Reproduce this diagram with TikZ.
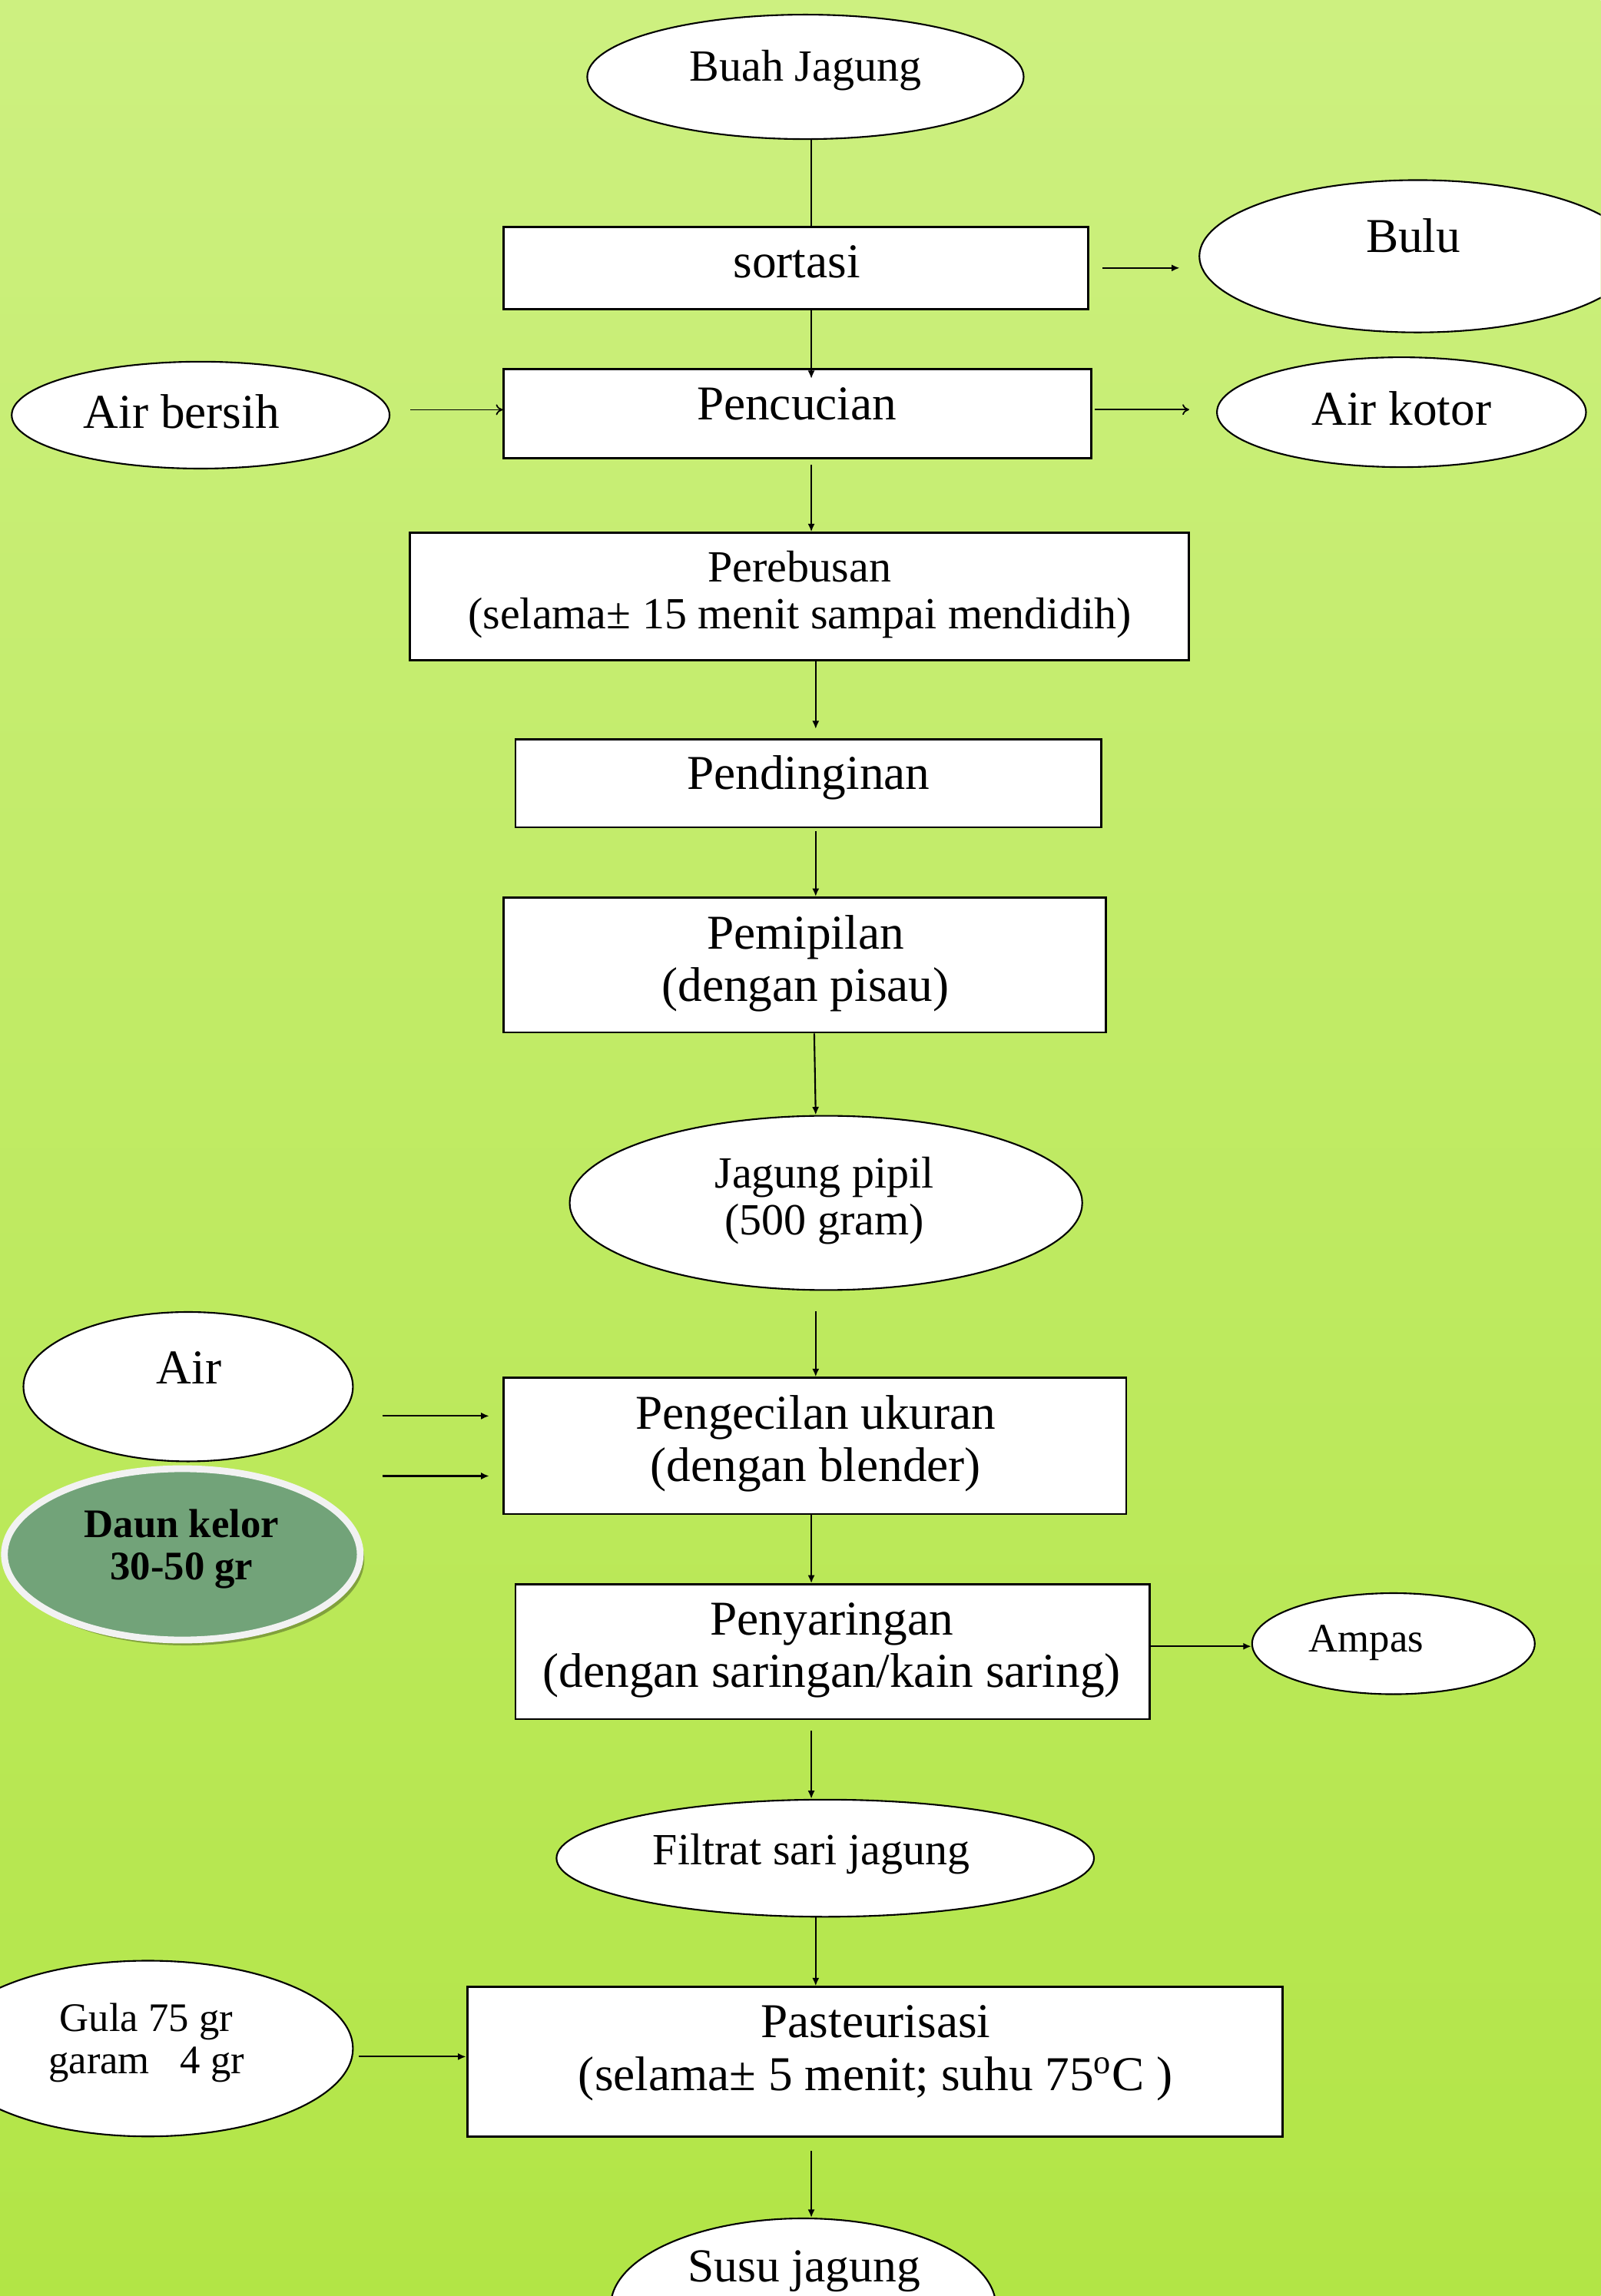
\documentclass[tikz,border=0pt]{standalone}
\usepackage{fontspec}
\setmainfont{Liberation Serif}
\usetikzlibrary{shapes.geometric,arrows.meta,fit,shadows}
\definecolor{bgtop}{RGB}{205,240,128}
\definecolor{bgbot}{RGB}{178,229,70}
\definecolor{kelor}{RGB}{114,163,121}
\definecolor{kelorrim}{RGB}{242,242,242}
\newcommand\pu{0.01906cm}
\begin{document}
\begin{tikzpicture}[x=0.01906cm,y=-0.01906cm,
 box/.style={draw=black,line width=0.8pt,fill=white,inner sep=0pt},
 ov/.style 2 args={ellipse,draw=black,line width=0.6pt,fill=white,inner sep=0pt,minimum width=#1*\pu,minimum height=#2*\pu},
 arr/.style={line width=0.6pt,-{Latex[length=3pt,width=2.6pt]}},
 openarr/.style={line width=0.5pt,-{To[length=2.5pt,width=4pt]}},
 plainline/.style={line width=0.6pt},
 lbl/.style={align=center,inner sep=0pt,font=\fontsize{18}{19.5}\selectfont},
 lbls/.style={align=center,inner sep=0pt,font=\fontsize{16.5}{17.4}\selectfont},
 lblxs/.style={align=center,inner sep=0pt,font=\fontsize{15}{15.7}\selectfont},
]
\useasboundingbox (0,0) rectangle (1093,1568);
\clip (0,0) rectangle (1093,1568);
\shade[top color=bgtop,bottom color=bgbot] (0,0) rectangle (1093,1568);

% shapes
\node[ov={298}{85}] (buah) at (550,52.5) {};
\node[box,fit={(344,155) (743,211)}] (sortasi) {};
\node[ov={298}{104}] (bulu) at (968,175) {};
\node[box,fit={(344,252) (745,313)}] (pencucian) {};
\node[ov={258}{73}] (airbersih) at (137,283.5) {};
\node[ov={252}{75}] (airkotor) at (957,281.5) {};
\node[box,fit={(280,364) (812,451)}] (perebusan) {};
\node[box,fit={(352,505) (752,565)}] (pendinginan) {};
\node[box,fit={(344,613) (755,705)}] (pemipilan) {};
\node[ov={350}{119}] (pipil) at (564,821.5) {};
\node[box,fit={(344,941) (769,1034)}] (pengecilan) {};
\node[ov={225}{102}] (air) at (128.5,947) {};
\node[ellipse,fill=kelor,draw=kelorrim,line width=2.5pt,inner sep=0pt,
      minimum width=243*\pu,minimum height=117*\pu,
      drop shadow={shadow xshift=1.5pt,shadow yshift=-2pt,fill=black,opacity=0.3}] (daun) at (124.5,1061.5) {};
\node[box,fit={(352,1082) (785,1174)}] (penyaringan) {};
\node[ov={193}{69}] (ampas) at (951.5,1122.5) {};
\node[ov={367}{80}] (filtrat) at (563.5,1269) {};
\node[box,fit={(319,1357) (876,1459)}] (pasteur) {};
\node[ov={280}{120}] (gula) at (101,1399) {};
\node[ov={263}{120}] (susu) at (548.5,1575) {};

% texts
\node[lbls] (tbuah) at (550,48) {Buah Jagung};
\node[lbl] (tsortasi) at (544,179) {sortasi};
\node[lbl] (tbulu) at (965,161) {Bulu};
\node[lbl] (tpencucian) at (544,276) {Pencucian};
\node[lbl] (tairbersih) at (124,281) {Air bersih};
\node[lbl] (tairkotor) at (957,279) {Air kotor};
\node[lbls] (tperebusan) at (546,406) {Perebusan\\(selama\textpm{} 15 menit sampai mendidih)};
\node[lbl] (tpendinginan) at (552,531) {Pendinginan};
\node[lbl] (tpemipilan) at (550,658) {Pemipilan\\(dengan pisau)};
\node[lbls] (tpipil) at (563,820) {Jagung pipil\\(500 gram)};
\node[lbl] (tair) at (129,934) {Air};
\node[lbl] (tpengecilan) at (557,986) {Pengecilan ukuran\\(dengan blender)};
\node[align=center,inner sep=0pt,font=\fontsize{15}{15.7}\selectfont\bfseries] (tdaun) at (124,1058) {Daun kelor\\30-50 gr};
\node[lbl] (tpenyaringan) at (568,1127) {Penyaringan\\(dengan saringan/kain saring)};
\node[lblxs] (tampas) at (933,1122) {Ampas};
\node[lbls] (tfiltrat) at (554,1266) {Filtrat sari jagung};
\node[lblxs] (tgula) at (100,1395) {Gula 75 gr\\garam~~~4 gr};
\node[lbl] (tpasteur) at (598,1402) {Pasteurisasi\\(selama\textpm{} 5 menit; suhu 75\textsuperscript{o}C )};
\node[align=center,inner sep=0pt,font=\fontsize{17.5}{19}\selectfont] (tsusu) at (549,1551) {Susu jagung};

% connectors
\coordinate (mx) at (554,0);
\coordinate (mxb) at (557,0);
\coordinate (mxc) at (556,0);
\coordinate (inA) at (261,967);
\coordinate (inB) at (261,1008);
\draw[plainline] (buah.south -| mx) -- (sortasi.north -| mx);
\draw[arr] (sortasi.south -| mx) -- ([yshift=-4pt]pencucian.north -| mx);
\draw[arr,shorten <=5pt,shorten >=7pt] (sortasi.east) -- (sortasi.east -| bulu.west);
\draw[openarr,shorten <=7.5pt] ([yshift=2pt]airbersih.east) -- ([yshift=2pt]airbersih.east -| pencucian.west);
\draw[openarr,shorten <=1pt,shorten >=10pt] ([yshift=1.5pt]pencucian.east) -- ([yshift=1.5pt]pencucian.east -| airkotor.west);
\draw[arr,shorten <=2pt] (pencucian.south -| mx) -- (perebusan.north -| mx);
\draw[arr,shorten >=3.5pt] (perebusan.south -| mxb) -- (pendinginan.north -| mxb);
\draw[arr,shorten <=1pt] (pendinginan.south -| mxb) -- (pemipilan.north -| mxb);
\draw[arr] (pemipilan.south -| mxc) -- (pipil.north -| mxb);
\draw[arr,shorten <=7.5pt] (pipil.south -| mxb) -- (pengecilan.north -| mxb);
\draw[arr,shorten >=5pt] (inA) -- (inA -| pengecilan.west);
\draw[arr,shorten >=5pt] (inB) -- (inB -| pengecilan.west);
\draw[arr] (pengecilan.south -| mx) -- (penyaringan.north -| mx);
\draw[arr] ([yshift=2pt]penyaringan.east) -- ([yshift=2pt]penyaringan.east -| ampas.west);
\draw[arr,shorten <=4pt] (penyaringan.south -| mx) -- (filtrat.north -| mx);
\draw[arr] (filtrat.south -| mxb) -- (pasteur.north -| mxb);
\draw[arr,shorten <=2pt] ([yshift=-3pt]gula.east) -- ([yshift=-3pt]gula.east -| pasteur.west);
\draw[arr,shorten <=5pt] (pasteur.south -| mx) -- (susu.north -| mx);
\end{tikzpicture}
\end{document}
